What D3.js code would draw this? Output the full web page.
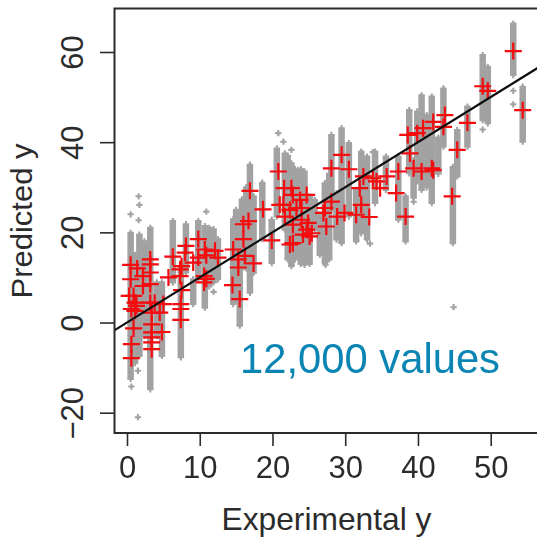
<!DOCTYPE html>
<html>
<head>
<meta charset="utf-8">
<script src="https://cdn.jsdelivr.net/npm/d3@7"></script>
<style>
    html, body { margin: 0; padding: 0; background: white; }
    svg { display: block; }
    text { font-family: "Liberation Sans", Arial, sans-serif; }
</style>
</head>
<body>
<svg id="main-svg" width="537" height="538"></svg>
<script>
// tick labels
const xTicks = [0, 10, 20, 30, 40, 50];
const yTicks = [-20, 0, 20, 40, 60];

// gray columns of predictions: experimental y, highest and lowest predicted y
const columnX = [0.5, 1.1, 1.7, 2.4, 3.2, 4.1, 4.8, 6.3, 7.4, 8.1, 9.1, 9.8, 10.7, 11.3, 11.9, 12.5, 14.6, 15.0, 15.8, 15.5, 16.4, 16.9, 17.4, 18.6, 19.9, 20.6, 21.7, 22.1, 22.6, 23.1, 23.5, 23.9, 24.4, 25.1, 25.8, 26.5, 27.2, 27.8, 28.1, 28.8, 29.5, 30.5, 31.5, 32.2, 33.0, 34.1, 35.6, 37.3, 38.3, 38.8, 39.4, 39.9, 40.5, 41.2, 41.9, 42.8, 43.5, 44.8, 45.4, 46.8, 48.9, 49.6, 53.1, 54.4];
const columnHigh = [19.9, 15.0, 19.5, 18.0, 21.0, 8.9, 8.9, 22.5, 12.5, 21.8, 9.6, 22.5, 21.4, 21.0, 20.7, 18.5, 22.9, 25.0, 27.3, 11.8, 30.0, 35.0, 28.0, 31.0, 22.8, 38.6, 37.5, 37.0, 35.3, 34.0, 33.8, 34.0, 33.5, 28.0, 27.2, 24.0, 30.9, 33.0, 41.6, 28.7, 43.1, 39.8, 29.4, 37.9, 36.8, 37.9, 36.8, 36.8, 28.0, 47.1, 36.0, 46.8, 50.4, 46.0, 50.1, 41.0, 51.9, 34.5, 42.7, 47.9, 59.3, 56.7, 66.3, 52.3];
const columnLow = [-12.5, -9.0, -7.4, -3.0, -14.8, -3.0, -7.4, 8.9, -7.7, 11.1, 4.1, 9.6, 3.3, 8.0, 8.9, 9.6, 4.1, 5.0, 11.8, -0.7, 12.0, 6.6, 11.0, 18.5, 13.2, 23.5, 20.6, 14.0, 12.5, 14.0, 15.4, 13.0, 12.8, 13.0, 20.6, 15.0, 13.2, 14.0, 25.0, 18.4, 17.6, 23.5, 18.0, 19.8, 18.4, 26.5, 29.4, 22.8, 18.0, 33.1, 27.7, 31.3, 29.4, 30.0, 26.5, 33.0, 39.0, 17.6, 32.4, 39.0, 44.9, 44.2, 54.9, 40.1];

// single gray points outside the columns
const strayX = [0.5, 0.6, 1.6, 1.7, 1.6, 1.5, 1.5, 10.9, 11.9, 20.8, 21.5, 22.6, 27.3, 33.4, 33.8, 39.4, 44.9, 48.9, 53.1, 53.1];
const strayY = [24.0, -14.2, 28.0, 26.1, 22.7, -10.7, -21.0, 24.6, 6.8, 42.0, 40.1, 38.3, 12.8, 17.5, 37.8, 26.8, 3.4, 42.8, 51.4, 48.4];

// red crosses: mean prediction per compound
const meanX = [0.5, 0.5, 1.4, 2.2, 3.2, 3.2, 3.2, 3.2, 2.2, 0.3, 0.9, 1.1, 1.3, 0.6, 1.1, 3.2, 3.8, 3.4, 5.0, 4.5, 3.4, 0.9, 3.4, 4.8, 3.4, 3.4, 3.4, 0.6, 0.6, 6.3, 5.7, 7.3, 7.5, 8.1, 8.0, 7.3, 7.5, 7.4, 7.4, 7.4, 9.8, 9.8, 9.1, 10.7, 10.9, 12.1, 12.5, 10.6, 10.9, 10.6, 14.6, 16.0, 16.7, 16.0, 16.2, 15.3, 15.3, 17.4, 14.5, 15.5, 16.9, 18.7, 19.9, 20.8, 21.6, 22.6, 22.8, 23.8, 24.7, 21.0, 21.5, 22.4, 23.3, 24.0, 21.7, 22.8, 24.0, 24.9, 24.7, 25.4, 24.2, 22.8, 22.4, 25.1, 27.2, 28.1, 27.0, 27.4, 28.1, 29.5, 30.5, 28.9, 29.9, 31.5, 32.2, 32.0, 33.3, 32.5, 33.8, 34.3, 35.7, 34.8, 37.3, 37.0, 38.3, 38.6, 38.9, 39.4, 39.9, 40.5, 40.7, 42.1, 41.9, 42.1, 43.7, 43.5, 45.4, 44.7, 46.8, 48.9, 49.6, 53.1, 54.4];
const meanY = [12.8, 9.6, 12.0, 10.3, 14.0, 12.9, 11.1, 8.5, 8.1, 5.9, 5.9, 4.4, 3.7, 3.0, 2.6, 4.4, 4.4, 2.2, 4.1, 2.2, -0.4, -1.3, -2.2, -2.1, -3.3, -4.4, -5.9, -4.8, -7.9, 14.6, 10.0, 11.8, 12.5, 17.0, 15.5, 10.3, 7.2, 4.1, 3.0, 0.6, 18.5, 14.4, 13.3, 16.2, 14.9, 15.9, 14.4, 10.3, 9.7, 8.9, 16.2, 21.8, 22.5, 18.5, 14.8, 14.0, 12.2, 13.1, 8.3, 5.2, 29.2, 25.1, 18.2, 33.5, 29.8, 29.8, 28.3, 27.2, 28.3, 26.1, 26.1, 25.0, 25.4, 25.4, 23.5, 21.7, 22.8, 22.1, 20.6, 19.8, 19.5, 17.6, 17.3, 19.1, 25.4, 26.8, 24.3, 21.3, 34.2, 37.2, 34.0, 23.5, 24.3, 23.9, 26.1, 29.8, 23.4, 32.4, 32.0, 31.3, 32.4, 29.8, 33.5, 28.7, 23.5, 41.6, 37.5, 34.2, 42.0, 33.5, 43.1, 44.5, 34.2, 33.8, 46.0, 43.4, 38.3, 28.0, 44.3, 52.4, 51.4, 60.2, 47.1];

// line of perfect prediction
const lineEnds = [-1.8, 56.5];

const x = d3.scaleLinear().domain([0, 50]).range([127, 490.7]);
const y = d3.scaleLinear().domain([-20, 60]).range([412.7, 52]);

const svg = d3.select("#main-svg");
const ink = "#2b2b2b";
const gray = "#a2a2a2";

// the source is a soft scan, so the marks get a slight blur
svg.append("filter").attr("id", "soft")
    .append("feGaussianBlur").attr("stdDeviation", 0.45);

svg.append("clipPath").attr("id", "plot-clip")
    .append("rect").attr("x", 114).attr("y", 8).attr("width", 423).attr("height", 425);

const plot = svg.append("g")
    .attr("clip-path", "url(#plot-clip)")
    .append("g")
    .attr("filter", "url(#soft)");

// gray columns
plot.selectAll("line.column")
    .data(columnX)
    .join("line")
    .attr("class", "column")
    .attr("x1", d => x(d))
    .attr("x2", d => x(d))
    .attr("y1", (d, i) => y(columnHigh[i]))
    .attr("y2", (d, i) => y(columnLow[i]))
    .attr("stroke", gray)
    .attr("stroke-width", 6.5);

// small crosses on the column ends and the strays
const grayCross = d3.symbol().type(d3.symbolCross).size(22)();
const ends = columnX.flatMap((d, i) => [[d, columnHigh[i]], [d, columnLow[i]]]);
const strays = strayX.map((d, i) => [d, strayY[i]]);
plot.selectAll("path.gray-point")
    .data(ends.concat(strays))
    .join("path")
    .attr("class", "gray-point")
    .attr("d", grayCross)
    .attr("transform", d => `translate(${x(d[0])},${y(d[1])})`)
    .attr("fill", gray);

// red crosses
plot.selectAll("path.mean")
    .data(meanX)
    .join("path")
    .attr("class", "mean")
    .attr("d", "M-8.5,0H8.5M0,-8.5V8.5")
    .attr("transform", (d, i) => `translate(${x(d)},${y(meanY[i])})`)
    .attr("fill", "none")
    .attr("stroke", "#f5080f")
    .attr("stroke-width", 2.2);

// diagonal
plot.append("line")
    .attr("x1", x(lineEnds[0]))
    .attr("y1", y(lineEnds[0]))
    .attr("x2", x(lineEnds[1]))
    .attr("y2", y(lineEnds[1]))
    .attr("stroke", "#111")
    .attr("stroke-width", 2.2);

// frame: left, top and bottom, the right side is cut off by the picture
svg.append("path")
    .attr("d", "M537,8.5H114.5V433H537")
    .attr("fill", "none")
    .attr("stroke", ink)
    .attr("stroke-width", 2);

// x axis
const xAxis = svg.append("g")
    .attr("transform", "translate(0,433)")
    .call(d3.axisBottom(x).tickValues(xTicks).tickSize(13).tickPadding(10).tickFormat(d3.format("d")));
xAxis.select(".domain").remove();
xAxis.selectAll("line").attr("stroke", ink).attr("stroke-width", 1.6);
xAxis.selectAll("text").attr("fill", ink).style("font-size", "31px");

// y axis, labels turned like in R
const yAxis = svg.append("g")
    .attr("transform", "translate(114,0)")
    .call(d3.axisLeft(y).tickValues(yTicks).tickSize(14).tickFormat(d => d < 0 ? "\u2212" + Math.abs(d) : d));
yAxis.select(".domain").remove();
yAxis.selectAll("line").attr("stroke", ink).attr("stroke-width", 1.6);
yAxis.selectAll("text")
    .attr("fill", ink)
    .attr("x", null)
    .attr("dy", null)
    .attr("text-anchor", "middle")
    .attr("transform", "translate(-31,0) rotate(-90)")
    .style("font-size", "31px");

// axis titles
svg.append("text")
    .attr("x", 326.5)
    .attr("y", 530)
    .attr("text-anchor", "middle")
    .attr("fill", ink)
    .style("font-size", "32px")
    .attr("textLength", 210)
    .attr("lengthAdjust", "spacingAndGlyphs")
    .text("Experimental y");

svg.append("text")
    .attr("transform", "translate(32,221) rotate(-90)")
    .attr("text-anchor", "middle")
    .attr("fill", ink)
    .style("font-size", "29px")
    .attr("textLength", 155)
    .attr("lengthAdjust", "spacingAndGlyphs")
    .text("Predicted y");

// note
svg.append("text")
    .attr("x", 370)
    .attr("y", 373)
    .attr("text-anchor", "middle")
    .attr("fill", "#0a85b3")
    .style("font-size", "42px")
    .attr("textLength", 260)
    .attr("lengthAdjust", "spacingAndGlyphs")
    .text("12,000 values");
</script>
</body>
</html>
